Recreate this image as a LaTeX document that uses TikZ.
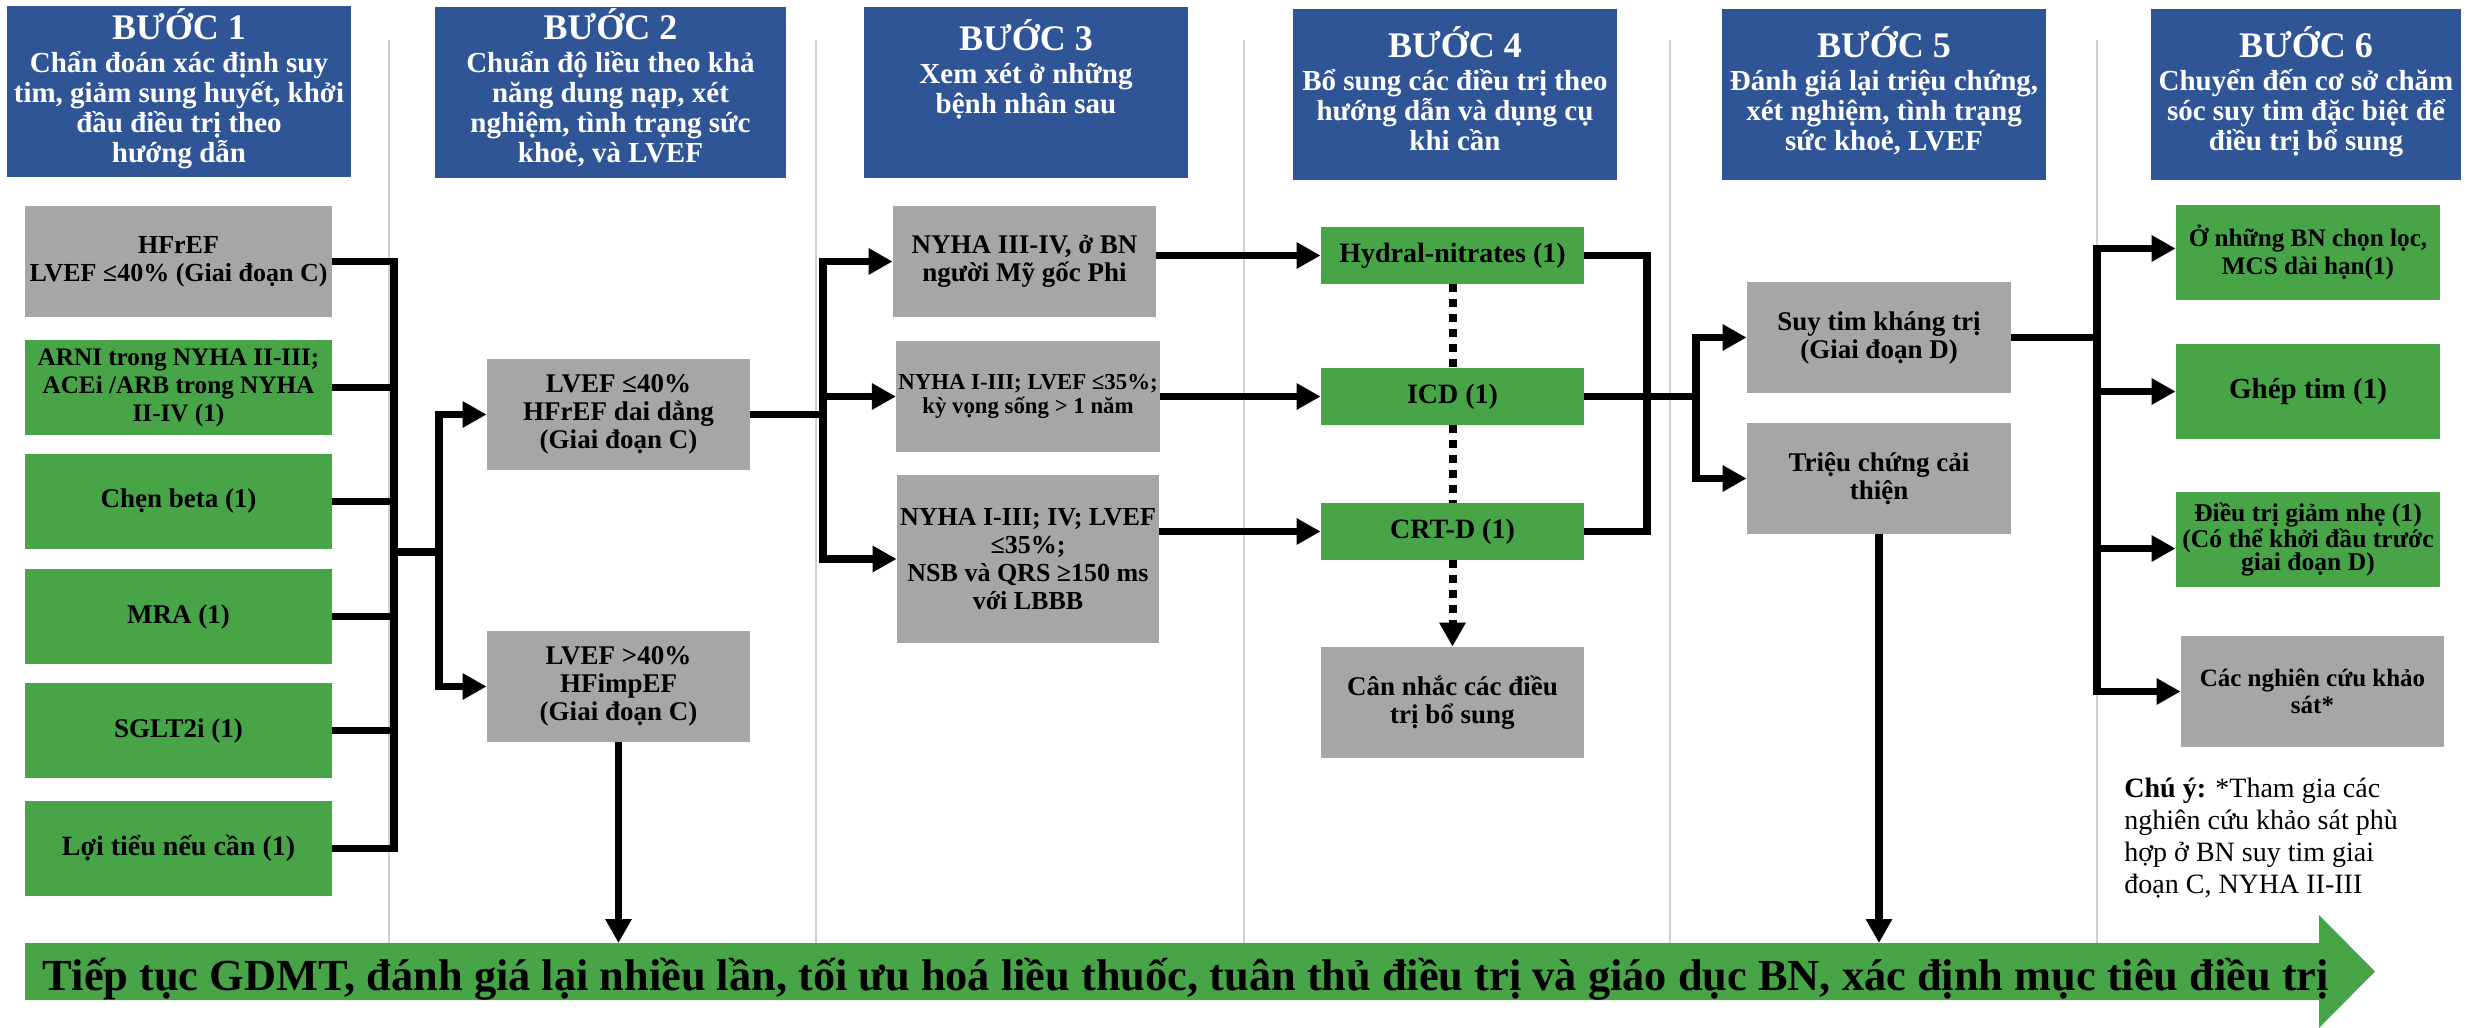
\documentclass[tikz,border=0pt]{standalone}
\usepackage{fontspec}
\setmainfont{Liberation Serif}
\usetikzlibrary{arrows.meta}
\definecolor{hblue}{HTML}{2F5597}
\definecolor{bgreen}{HTML}{47A548}
\definecolor{bgray}{HTML}{A6A6A6}
\definecolor{sepgray}{HTML}{D0D0D0}
\newcommand{\fs}[2]{\fontsize{#1}{#2}\selectfont}
\begin{document}
\begin{tikzpicture}[x=0.5pt,y=-0.5pt,
  box/.style={inner sep=1pt, align=center, text=black, font=\bfseries\fs{13.5}{14}},
  gbox/.style={box, fill=bgreen},
  ybox/.style={box, fill=bgray},
  hbox/.style={fill=hblue, inner sep=0pt},
  htext/.style={anchor=north, inner sep=0pt, align=center, text=white, font=\bfseries\fs{14.5}{15}},
  ln/.style={line width=3.75pt},
  arr/.style={ln, -{Triangle[length=12pt,width=12.5pt]}},
  dotl/.style={line width=4pt, dash pattern=on 4pt off 3.5pt},
  sepline/.style={draw=sepgray, line width=0.75pt},
]
\useasboundingbox (0,0) rectangle (2469,1028);

% separators
\foreach \xx in {389,816,1244,1670,2097} \draw[sepline] (\xx,40) -- (\xx,943);

% headers
\node[hbox, minimum width=172pt, minimum height=85.5pt] (h1) at (179,91.5) {};
\node[hbox, minimum width=175.5pt, minimum height=85.5pt] (h2) at (610.5,92.5) {};
\node[hbox, minimum width=162pt, minimum height=85.5pt] (h3) at (1026,92.5) {};
\node[hbox, minimum width=162pt, minimum height=85.5pt] (h4) at (1455,94.5) {};
\node[hbox, minimum width=162pt, minimum height=85.5pt] (h5) at (1884,94.5) {};
\node[hbox, minimum width=155pt, minimum height=85.5pt] (h6) at (2306,94.5) {};

\node[htext] (t1) at ([yshift=-1.2pt]h1.north) {{\fs{18}{18}BƯỚC 1}\\[1.5pt]Chẩn đoán xác định suy\\tim, giảm sung huyết, khởi\\đầu điều trị theo\\hướng dẫn};
\node[htext] (t2) at ([yshift=-0.7pt]h2.north) {{\fs{18}{18}BƯỚC 2}\\[1.5pt]Chuẩn độ liều theo khả\\năng dung nạp, xét\\nghiệm, tình trạng sức\\khoẻ, và LVEF};
\node[htext] (t3) at ([yshift=-6.5pt]h3.north) {{\fs{18}{18}BƯỚC 3}\\[1.5pt]Xem xét ở những\\bệnh nhân sau};
\node[htext] (t4) at ([yshift=-9pt]h4.north) {{\fs{18}{18}BƯỚC 4}\\[1.5pt]Bổ sung các điều trị theo\\hướng dẫn và dụng cụ\\khi cần};
\node[htext] (t5) at ([yshift=-9pt]h5.north) {{\fs{18}{18}BƯỚC 5}\\[1.5pt]Đánh giá lại triệu chứng,\\xét nghiệm, tình trạng\\sức khoẻ, LVEF};
\node[htext] (t6) at ([yshift=-9pt]h6.north) {{\fs{18}{18}BƯỚC 6}\\[1.5pt]Chuyển đến cơ sở chăm\\sóc suy tim đặc biệt để\\điều trị bổ sung};

% step 1
\node[ybox, minimum width=153.5pt, minimum height=55.5pt, font=\bfseries\fs{13}{14}] (hfref) at (178.5,261.5) {HFrEF\\LVEF ≤40\% (Giai đoạn C)};
\node[gbox, minimum width=153.5pt, minimum height=47.5pt, font=\bfseries\fs{12.6}{14}] (arni) at (178.5,387.5) {ARNI trong NYHA II-III;\\ACEi /ARB trong NYHA\\II-IV (1)};
\node[gbox, minimum width=153.5pt, minimum height=47.5pt] (chen) at (178.5,501.5) {Chẹn beta (1)};
\node[gbox, minimum width=153.5pt, minimum height=47.5pt] (mra) at (178.5,616.5) {MRA (1)};
\node[gbox, minimum width=153.5pt, minimum height=47.5pt] (sglt) at (178.5,730.5) {SGLT2i (1)};
\node[gbox, minimum width=153.5pt, minimum height=47.5pt, font=\bfseries\fs{14}{14}] (loi) at (178.5,848.5) {Lợi tiểu nếu cần (1)};

% step 2
\node[ybox, minimum width=131.5pt, minimum height=55.5pt] (lvef40) at (618.5,414.5) {LVEF ≤40\%\\HFrEF dai dẳng\\(Giai đoạn C)};
\node[ybox, minimum width=131.5pt, minimum height=55.5pt] (lvefimp) at (618.5,686.5) {LVEF >40\%\\HFimpEF\\(Giai đoạn C)};

% step 3
\node[ybox, minimum width=131.5pt, minimum height=55.5pt] (nyha34) at (1024.5,261.5) {NYHA III-IV, ở BN\\người Mỹ gốc Phi};
\node[ybox, minimum width=131pt, minimum height=55.5pt, font=\bfseries\fs{11.4}{12}] (nyha13) at (1028,396.5) {NYHA I-III; LVEF ≤35\%;\\kỳ vọng sống > 1 năm};
\node[ybox, minimum width=131pt, minimum height=84pt, font=\bfseries\fs{13}{14}] (nyha134) at (1028,559) {NYHA I-III; IV; LVEF\\≤35\%;\\NSB và QRS ≥150 ms\\với LBBB};

% step 4
\node[gbox, minimum width=131.5pt, minimum height=28.5pt, font=\bfseries\fs{14}{14}] (hydral) at (1452.5,255.5) {Hydral-nitrates (1)};
\node[gbox, minimum width=131.5pt, minimum height=28.5pt, font=\bfseries\fs{14}{14}] (icd) at (1452.5,396.5) {ICD (1)};
\node[gbox, minimum width=131.5pt, minimum height=28.5pt, font=\bfseries\fs{14}{14}] (crtd) at (1452.5,531.5) {CRT-D (1)};
\node[ybox, minimum width=131.5pt, minimum height=55.5pt] (cannhac) at (1452.5,702.5) {Cân nhắc các điều\\trị bổ sung};

% step 5
\node[ybox, minimum width=132pt, minimum height=55.5pt] (suytim) at (1879,337.5) {Suy tim kháng trị\\(Giai đoạn D)};
\node[ybox, minimum width=132pt, minimum height=55.5pt] (trieuchung) at (1879,478.5) {Triệu chứng cải\\thiện};

% step 6
\node[gbox, minimum width=132pt, minimum height=47.5pt, font=\bfseries\fs{12.6}{14}] (onhung) at (2308,252.5) {Ở những BN chọn lọc,\\MCS dài hạn(1)};
\node[gbox, minimum width=132pt, minimum height=47.5pt, font=\bfseries\fs{14.5}{14}] (ghep) at (2308,391.5) {Ghép tim (1)};
\node[gbox, minimum width=132pt, minimum height=47.5pt, font=\bfseries\fs{12.8}{11.8}] (dieutri) at (2308,539.5) {Điều trị giảm nhẹ (1)\\(Có thể khởi đầu trước\\giai đoạn D)};
\node[ybox, minimum width=131.5pt, minimum height=55.5pt, font=\bfseries\fs{12.5}{13.5}] (cacnc) at (2312.5,691.5) {Các nghiên cứu khảo\\sát*};

% note
\node[anchor=north west, align=left, inner sep=0pt, font=\fs{14}{16}] (note) at (2124,778) {\textbf{Chú ý:} *Tham gia các\\nghiên cứu khảo sát phù\\hợp ở BN suy tim giai\\đoạn C, NYHA II-III};

% bottom band
\fill[bgreen] (25,943) -- (2319,943) -- (2319,915) -- (2375,971.5) -- (2319,1028) -- (2319,1000) -- (25,1000) -- cycle;
\coordinate (bandtop) at (0,943);
\node[anchor=base, inner sep=0pt, font=\bfseries\fs{21}{21}] (bandtxt) at (1186,990) {\resizebox{1143pt}{!}{Tiếp tục GDMT, đánh giá lại nhiều lần, tối ưu hoá liều thuốc, tuân thủ điều trị và giáo dục BN, xác định mục tiêu điều trị}};

% step 1 bus
\coordinate (bus1) at (394,848.5);
\draw[ln] (hfref.east) -| (bus1) -- (loi.east);
\foreach \n in {arni,chen,mra,sglt} \draw[ln] (\n.east) -- (\n.east -| bus1);
\coordinate (j2) at (439,552);
\draw[ln] (j2 -| bus1) -- (j2);
\draw[arr] (j2) |- (lvef40.west);
\draw[arr] (j2) |- (lvefimp.west);

% step 2 -> 3
\coordinate (j3) at (823,414.5);
\draw[ln] (lvef40.east) -- (j3);
\draw[arr] (j3) |- (nyha34.west);
\draw[arr] (j3) |- (nyha13.west);
\draw[arr] (j3) |- (nyha134.west);

% step 3 -> 4
\draw[arr] (nyha34.east |- hydral.west) -- (hydral.west);
\draw[arr] (nyha13.east) -- (icd.west);
\draw[arr] (nyha134.east |- crtd.west) -- (crtd.west);

\draw[dotl] (hydral.south) -- (icd.north);
\draw[dotl] (icd.south) -- (crtd.north);
\draw[dotl, -{Triangle[length=12pt,width=12.5pt]}] (crtd.south) -- (cannhac.north);

% step 4 -> 5
\coordinate (j4) at (1647,531.5);
\draw[ln] (hydral.east) -| (j4) -- (crtd.east);
\coordinate (j5) at (1696,396.5);
\draw[ln] (icd.east) -- (j5);
\draw[arr] (j5) |- (suytim.west);
\draw[arr] (j5) |- (trieuchung.west);

% step 5 -> 6
\coordinate (j6) at (2097,337.5);
\draw[ln] (suytim.east) -- (j6);
\draw[arr] (j6) |- ([yshift=2pt]onhung.west);
\draw[arr] (j6) |- (ghep.west);
\draw[arr] (j6) |- ([yshift=-4.5pt]dieutri.west);
\draw[arr] (j6) |- (cacnc.west);

% down to band
\draw[arr] (lvefimp.south) -- (lvefimp.south |- bandtop);
\draw[arr] (trieuchung.south) -- (trieuchung.south |- bandtop);
\end{tikzpicture}
\end{document}
